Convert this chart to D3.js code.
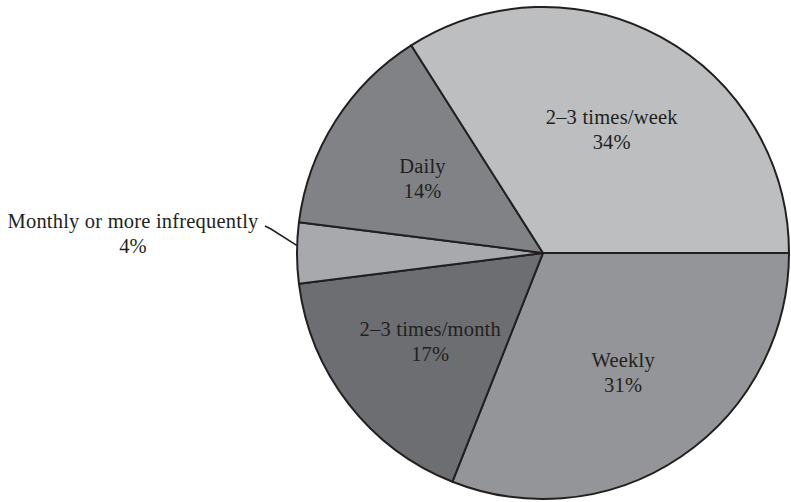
<!DOCTYPE html>
<html>
<head>
<meta charset="utf-8">
<script src="https://cdn.jsdelivr.net/npm/d3@7"></script>
<style>
  html, body { margin: 0; padding: 0; background: #ffffff; }
  svg { display: block; }
  text { font-family: "Liberation Serif", "DejaVu Serif", serif; fill: #231f20; letter-spacing: 0.2px; }
</style>
</head>
<body>
<svg id="chart" width="791" height="502"></svg>
<script>
// Survey shares, in drawing order clockwise from 3 o'clock
const categories = ["Weekly", "2–3 times/month", "Monthly or more infrequently", "Daily", "2–3 times/week"];
const shares = [31, 17, 4, 14, 34];
const shareLabels = ["31%", "17%", "4%", "14%", "34%"];
const fills = ["#939598", "#6d6e71", "#a7a9ac", "#808285", "#bcbec0"];

const svg = d3.select("#chart");
const cx = 543, cy = 253, R = 246;

const data = categories.map((c, i) => ({ name: c, value: shares[i], label: shareLabels[i], fill: fills[i] }));

const pie = d3.pie()
  .value(d => d.value)
  .sort(null)
  .startAngle(Math.PI / 2)
  .endAngle(Math.PI / 2 + 2 * Math.PI);

const arcs = pie(data);
const arc = d3.arc().innerRadius(0).outerRadius(R);
const labelArc = d3.arc().innerRadius(R * 0.58).outerRadius(R * 0.58);

const g = svg.append("g").attr("transform", `translate(${cx},${cy})`);

g.selectAll("path.slice")
  .data(arcs)
  .join("path")
  .attr("class", "slice")
  .attr("d", arc)
  .attr("fill", d => d.data.fill)
  .attr("stroke", "#231f20")
  .attr("stroke-width", 2)
  .attr("stroke-linejoin", "round");

const fontSize = 20.5;

// Labels inside the larger slices
const inside = arcs.filter(d => d.data.value >= 10);
const lbl = g.selectAll("text.inside")
  .data(inside)
  .join("text")
  .attr("class", "inside")
  .attr("text-anchor", "middle")
  .attr("font-size", fontSize)
  .attr("transform", d => {
    const [x, y] = labelArc.centroid(d);
    return `translate(${x},${y})`;
  });
lbl.append("tspan").attr("x", 0).attr("dy", -4).text(d => d.data.name);
lbl.append("tspan").attr("x", 0).attr("dy", 25).text(d => d.data.label);

// Small slice gets an outside label with a leader line
const small = arcs.filter(d => d.data.value < 10);
small.forEach(d => {
  const a = d.startAngle + 0.62 * (d.endAngle - d.startAngle);
  const ex = Math.sin(a) * R, ey = -Math.cos(a) * R;
  const tx = 133 - cx, ty = 228 - cy;
  g.append("path")
    .attr("d", d3.line()([[ex, ey], [271 - cx, 229 - cy], [265 - cx, 226 - cy]]))
    .attr("fill", "none")
    .attr("stroke", "#231f20")
    .attr("stroke-width", 1.6);
  const t = g.append("text")
    .attr("text-anchor", "middle")
    .attr("font-size", fontSize)
    .attr("transform", `translate(${tx},${ty})`);
  t.append("tspan").attr("x", 0).attr("dy", 0).text(d.data.name);
  t.append("tspan").attr("x", 0).attr("dy", 25).text(d.data.label);
});
</script>
</body>
</html>
